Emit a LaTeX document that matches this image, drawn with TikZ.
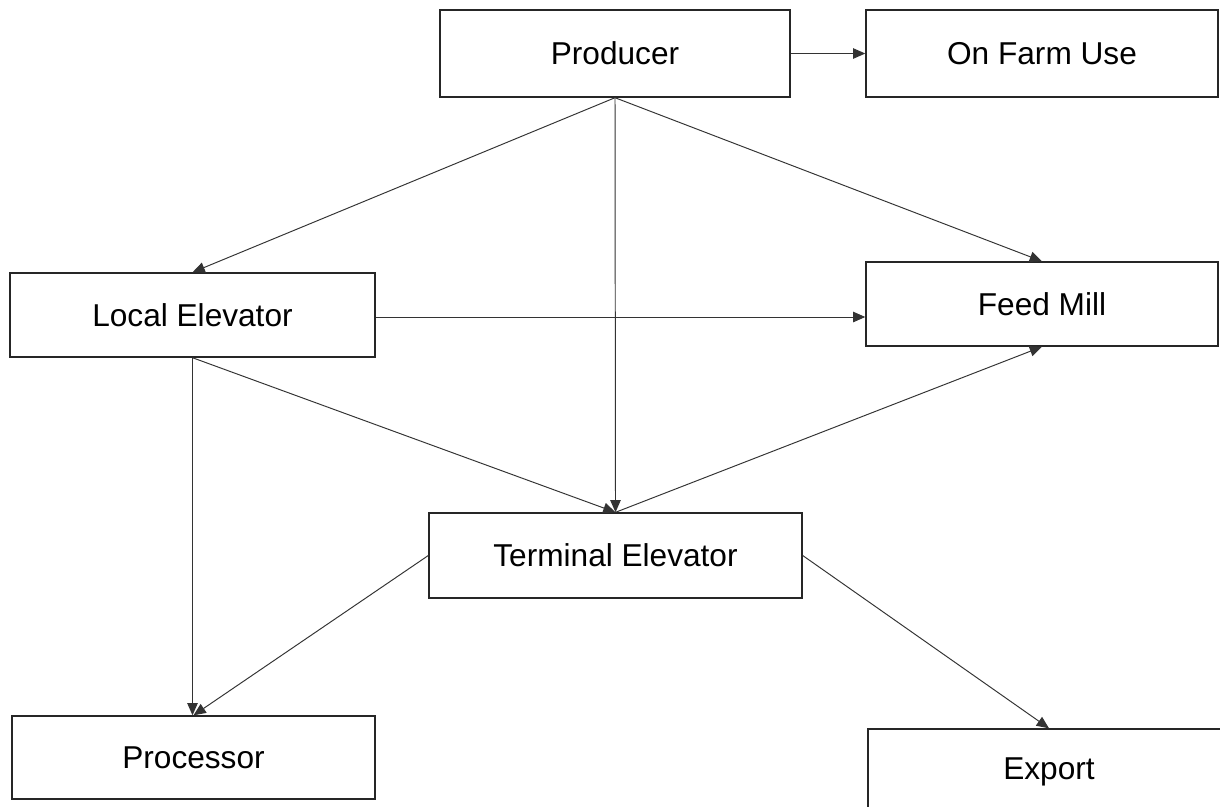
\documentclass[tikz,border=0pt]{standalone}
\usepackage{fontspec}
\setmainfont{Liberation Sans}
\usetikzlibrary{arrows.meta}
\begin{document}
\begin{tikzpicture}[x=0.02cm,y=-0.02cm,
  box/.style={draw=black!85,line width=0.8pt,rectangle,inner sep=0pt,font=\fontsize{18}{22}\selectfont},
  conn/.style={draw=black!80,line width=0.55pt,-{Triangle[length=7pt,width=6pt]}}]
\clip (0,0) rectangle (1220,806);
\fill[white] (0,0) rectangle (1220,806);
\node[box,minimum width=350*0.02cm,minimum height=87*0.02cm] (prod) at (615,53.5) {Producer};
\node[box,minimum width=352*0.02cm,minimum height=87*0.02cm] (farm) at (1042,53.5) {On Farm Use};
\node[box,minimum width=365*0.02cm,minimum height=84*0.02cm] (local) at (192.5,315) {Local Elevator};
\node[box,minimum width=352*0.02cm,minimum height=84*0.02cm] (feed) at (1042,304) {Feed Mill};
\node[box,minimum width=373*0.02cm,minimum height=85*0.02cm] (term) at (615.5,555.5) {Terminal Elevator};
\node[box,minimum width=363*0.02cm,minimum height=83*0.02cm] (proc) at (193.5,757.5) {Processor};
\node[box,minimum width=362*0.02cm,minimum height=86*0.02cm] (exp) at (1049,772) {Export};
\draw[conn] (prod.east) -- (farm.west);
\draw[conn] (prod.south) -- (local.north);
\draw[conn] (prod.south) -- (term.north);
\draw[conn] (prod.south) -- (feed.north);
\draw[conn] ([yshift=-0.04cm]local.east) -- ([yshift=-0.04cm]local.east -| feed.west);
\draw[conn] (local.south) -- (term.north);
\draw[conn] (local.south) -- (local.south |- proc.north);
\draw[conn] (term.north) -- (feed.south);
\draw[conn] (term.west) -- (proc.north);
\draw[conn] (term.east) -- (exp.north);
\end{tikzpicture}
\end{document}
